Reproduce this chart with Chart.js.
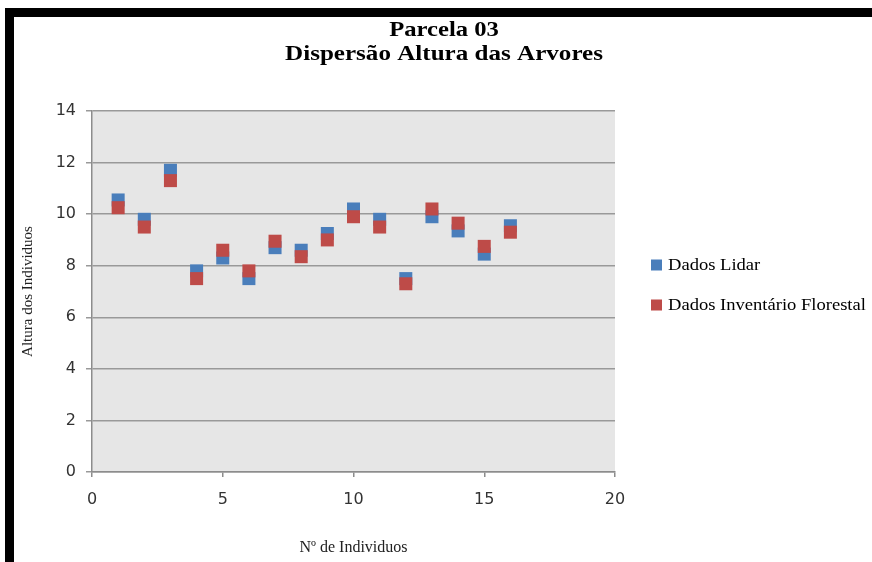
<!DOCTYPE html>
<html>
<head>
<meta charset="utf-8">
<script src="https://cdn.jsdelivr.net/npm/chart.js@4/dist/chart.umd.min.js"></script>
<style>
  html, body { margin: 0; padding: 0; background: #fff; }
  #wrap { width: 872px; height: 562px; position: relative; }
</style>
</head>
<body>
<div id="wrap"><canvas id="c" width="872" height="562"></canvas></div>
<script>
// Tree numbers and the two height series (m)
const individuos = [1, 2, 3, 4, 5, 6, 7, 8, 9, 10, 11, 12, 13, 14, 15, 16];
const dadosLidar = [10.55, 9.8, 11.7, 7.8, 8.3, 7.5, 8.7, 8.6, 9.25, 10.2, 9.8, 7.5, 9.9, 9.35, 8.45, 9.55];
const dadosInventario = [10.25, 9.5, 11.3, 7.5, 8.6, 7.8, 8.95, 8.35, 9.0, 9.9, 9.5, 7.3, 10.2, 9.65, 8.75, 9.3];

const xTicks = [0, 5, 10, 15, 20];
const yTicks = [0, 2, 4, 6, 8, 10, 12, 14];

const titleLines = ['Parcela 03', 'Dispersão Altura das Arvores'];
const seriesNames = ['Dados Lidar', 'Dados Inventário Florestal'];
const seriesColors = ['#4a7ebb', '#be4b48'];
const xTitle = 'Nº de Individuos';
const yTitle = 'Altura dos Individuos';

const toPoints = (ys) => individuos.map((x, i) => ({ x: x, y: ys[i] }));

// Wide serif text drawn with a slight horizontal stretch
function drawWideText(ctx, text, x, y, font, align, sx) {
  ctx.save();
  ctx.font = font;
  ctx.fillStyle = '#000';
  ctx.textAlign = align;
  ctx.textBaseline = 'alphabetic';
  ctx.translate(x, y);
  ctx.scale(sx, 1);
  ctx.fillText(text, 0, 0);
  ctx.restore();
}

const decor = {
  id: 'decor',
  beforeDraw(chart) {
    const { ctx, chartArea: a } = chart;
    ctx.save();
    ctx.fillStyle = '#fff';
    ctx.fillRect(0, 0, chart.width, chart.height);
    // plot area
    ctx.fillStyle = '#e6e6e6';
    ctx.fillRect(a.left, a.top, a.right - a.left, a.bottom - a.top);
    // black frame along the top and left edges
    ctx.fillStyle = '#000';
    ctx.fillRect(5, 8, chart.width - 5, 9);
    ctx.fillRect(5, 8, 9, chart.height - 8);
    ctx.restore();
  },
  afterDraw(chart) {
    const ctx = chart.ctx;
    // two-line title
    const tf = 'bold 22px "Liberation Serif", "Times New Roman", serif';
    drawWideText(ctx, titleLines[0], 444, 36, tf, 'center', 1.12);
    drawWideText(ctx, titleLines[1], 444, 60, tf, 'center', 1.14);
    // legend
    const ly = [265, 305];
    chart.data.datasets.forEach((ds, i) => {
      ctx.save();
      ctx.fillStyle = ds.backgroundColor;
      ctx.fillRect(651, ly[i] - 5.5, 11, 11);
      ctx.restore();
      drawWideText(ctx, ds.label, 668, ly[i] + 5, '16px "Liberation Serif", "Times New Roman", serif', 'left', 1.16);
    });
  }
};

const axisGray = '#8c8c8c';

new Chart(document.getElementById('c'), {
  type: 'scatter',
  data: {
    datasets: [
      {
        label: seriesNames[0],
        data: toPoints(dadosLidar),
        backgroundColor: seriesColors[0],
        borderColor: seriesColors[0],
        borderWidth: 0,
        pointStyle: 'rect',
        pointRadius: 9.2,
        pointHoverRadius: 9.2,
        order: 2
      },
      {
        label: seriesNames[1],
        data: toPoints(dadosInventario),
        backgroundColor: seriesColors[1],
        borderColor: seriesColors[1],
        borderWidth: 0,
        pointStyle: 'rect',
        pointRadius: 9.2,
        pointHoverRadius: 9.2,
        order: 1
      }
    ]
  },
  options: {
    responsive: false,
    animation: false,
    devicePixelRatio: 1,
    layout: { padding: { left: 14, top: 111, right: 257, bottom: 5 } },
    plugins: {
      legend: { display: false },
      title: { display: false },
      tooltip: { enabled: false }
    },
    scales: {
      x: {
        type: 'linear',
        min: xTicks[0],
        max: xTicks[xTicks.length - 1],
        afterBuildTicks: (s) => { s.ticks = xTicks.map(v => ({ value: v })); },
        afterFit: (s) => { s.height = 85; },
        ticks: {
          font: { family: '"DejaVu Sans", Verdana, sans-serif', size: 16 },
          color: '#333',
          padding: 13,
          maxRotation: 0
        },
        grid: { drawOnChartArea: false, drawTicks: true, tickLength: 5, color: axisGray, lineWidth: 1.5 },
        border: { display: true, color: axisGray, width: 1.5 },
        title: {
          display: true,
          text: xTitle,
          font: { family: '"Liberation Serif", "Times New Roman", serif', size: 16 },
          color: '#222',
          padding: { top: 0, bottom: 0 }
        }
      },
      y: {
        type: 'linear',
        min: yTicks[0],
        max: yTicks[yTicks.length - 1],
        afterBuildTicks: (s) => { s.ticks = yTicks.map(v => ({ value: v })); },
        afterFit: (s) => { s.width = 78; },
        ticks: {
          font: { family: '"DejaVu Sans", Verdana, sans-serif', size: 16 },
          color: '#333',
          padding: 10
        },
        grid: { color: '#999', lineWidth: 1.5, tickLength: 6, drawTicks: true },
        border: { display: true, color: axisGray, width: 1.5 },
        title: {
          display: true,
          text: yTitle,
          font: { family: '"Liberation Serif", "Times New Roman", serif', size: 15 },
          color: '#222',
          padding: { top: 5, bottom: 0 }
        }
      }
    }
  },
  plugins: [decor]
});
</script>
</body>
</html>
